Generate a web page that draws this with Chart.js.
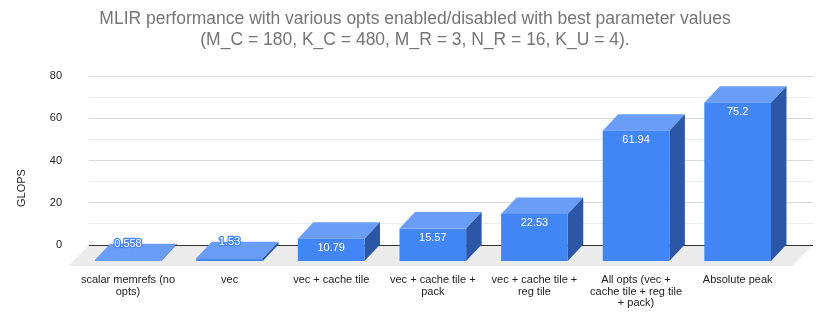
<!DOCTYPE html>
<html>
<head>
<meta charset="utf-8">
<title>MLIR performance</title>
<script src="https://cdn.jsdelivr.net/npm/chart.js@4.4.0/dist/chart.umd.min.js"></script>
<style>
    html, body { margin: 0; padding: 0; background: #fff; }
    #wrap { width: 830px; height: 325px; }
</style>
</head>
<body>
<div id="wrap"><canvas id="perfChart" width="830" height="325"></canvas></div>
<script>
// Chart data
const categories = [
    ['scalar memrefs (no', 'opts)'],
    'vec',
    'vec + cache tile',
    ['vec + cache tile +', 'pack'],
    ['vec + cache tile +', 'reg tile'],
    ['All opts (vec +', 'cache tile + reg tile', '+ pack)'],
    'Absolute peak'
];
const glops = [0.558, 1.53, 10.79, 15.57, 22.53, 61.94, 75.2];
const yTicks = [0, 20, 40, 60, 80];

const FONT = "'Liberation Sans', Arial, sans-serif";

// 3D look (pixels)
const depth = { x: 15.5, y: 16.5 };
const floorDepth = { x: 20.5, y: 21 };
const colors = {
    front: '#4285f4',
    top: '#6a9df6',
    side: '#2b57a6',
    floor: '#ebebeb'
};

function poly(ctx, pts) {
    ctx.beginPath();
    ctx.moveTo(pts[0][0], pts[0][1]);
    for (let i = 1; i < pts.length; i++) ctx.lineTo(pts[i][0], pts[i][1]);
    ctx.closePath();
    ctx.fill();
}

// Draws the floor, the 3D boxes and their value labels from the bar elements
const bars3d = {
    id: 'bars3d',
    beforeDatasetsDraw(chart) {
        const { ctx, chartArea: a } = chart;
        const y0 = chart.scales.y.getPixelForValue(0);
        ctx.save();
        ctx.fillStyle = colors.floor;
        poly(ctx, [
            [a.left, y0],
            [a.right, y0],
            [a.right - floorDepth.x, y0 + floorDepth.y],
            [a.left - floorDepth.x, y0 + floorDepth.y]
        ]);
        ctx.strokeStyle = '#333';
        ctx.lineWidth = 1;
        ctx.beginPath();
        ctx.moveTo(a.left, Math.floor(y0) + 0.5);
        ctx.lineTo(a.right, Math.floor(y0) + 0.5);
        ctx.stroke();
        ctx.restore();
    },
    afterDatasetsDraw(chart) {
        const { ctx } = chart;
        const meta = chart.getDatasetMeta(0);
        ctx.save();
        meta.data.forEach((bar, i) => {
            const p = bar.getProps(['x', 'y', 'base', 'width'], true);
            const bl = p.x - p.width / 2, br = p.x + p.width / 2;
            const fl = bl - depth.x, fr = br - depth.x;
            const ft = p.y + depth.y, fb = p.base + depth.y;

            ctx.fillStyle = colors.top;
            poly(ctx, [[fl, ft], [fr, ft], [br, p.y], [bl, p.y]]);
            ctx.fillStyle = colors.side;
            poly(ctx, [[fr, ft], [br, p.y], [br, p.base], [fr, fb]]);
            ctx.fillStyle = colors.front;
            ctx.fillRect(fl, ft, fr - fl, fb - ft);

            // value label
            const text = String(glops[i]);
            const cx = (fl + fr) / 2;
            ctx.font = '11px ' + FONT;
            ctx.textAlign = 'center';
            ctx.textBaseline = 'middle';
            if (fb - ft < 18) {
                ctx.lineWidth = 2.5;
                ctx.lineJoin = 'round';
                ctx.strokeStyle = colors.front;
                ctx.strokeText(text, cx, p.y);
                ctx.fillStyle = '#fff';
                ctx.fillText(text, cx, p.y);
            } else {
                ctx.fillStyle = '#fff';
                ctx.fillText(text, cx, ft + 9.5);
            }
        });
        ctx.restore();
    },
    afterDraw(chart) {
        const { ctx } = chart;
        ctx.save();
        ctx.translate(22, 188);
        ctx.rotate(-Math.PI / 2);
        ctx.font = '11px ' + FONT;
        ctx.fillStyle = '#222';
        ctx.textAlign = 'center';
        ctx.textBaseline = 'middle';
        ctx.fillText('GLOPS', 0, 0);
        ctx.restore();
    }
};

document.addEventListener('DOMContentLoaded', function() {
    const ctx = document.getElementById('perfChart');

    new Chart(ctx, {
        type: 'bar',
        data: {
            datasets: [{
                label: 'GLOPS',
                data: glops.map((v, i) => ({ x: i, y: v })),
                backgroundColor: 'rgba(0, 0, 0, 0)',
                borderWidth: 0,
                categoryPercentage: 1,
                barPercentage: 0.656
            }]
        },
        options: {
            responsive: false,
            animation: false,
            layout: {
                padding: { left: 17, right: 17, top: 0, bottom: 0 }
            },
            scales: {
                x: {
                    type: 'linear',
                    offset: false,
                    min: -0.536,
                    max: 6.589,
                    afterFit: function(scale) { scale.height = 80; },
                    grid: { display: false, drawTicks: false },
                    border: { display: false },
                    ticks: {
                        stepSize: 1,
                        includeBounds: false,
                        autoSkip: false,
                        maxRotation: 0,
                        padding: 29,
                        labelOffset: -15.5,
                        color: '#222',
                        font: { family: FONT, size: 11, lineHeight: 1.07 },
                        callback: function(value) {
                            return Number.isInteger(value) ? categories[value] : '';
                        }
                    }
                },
                y: {
                    min: 0,
                    max: 80,
                    afterFit: function(scale) { scale.width = 72; },
                    grid: {
                        drawTicks: false,
                        color: function(c) {
                            return c.tick.value % 20 === 0 ? '#d9d9d9' : '#ececec';
                        }
                    },
                    border: { display: false },
                    ticks: {
                        stepSize: 5,
                        padding: 27,
                        color: '#222',
                        font: { family: FONT, size: 11 },
                        callback: function(value) {
                            return yTicks.includes(value) ? value : '';
                        }
                    }
                }
            },
            plugins: {
                legend: { display: false },
                tooltip: { enabled: false },
                title: {
                    display: true,
                    text: [
                        'MLIR performance with various opts enabled/disabled with best parameter values',
                        '(M_C = 180, K_C = 480, M_R = 3, N_R = 16, K_U = 4).'
                    ],
                    color: '#757575',
                    font: { family: FONT, size: 17.5, weight: 'normal', lineHeight: 1.2 },
                    padding: { top: 9, bottom: 25 }
                }
            }
        },
        plugins: [bars3d]
    });
});
</script>
</body>
</html>
